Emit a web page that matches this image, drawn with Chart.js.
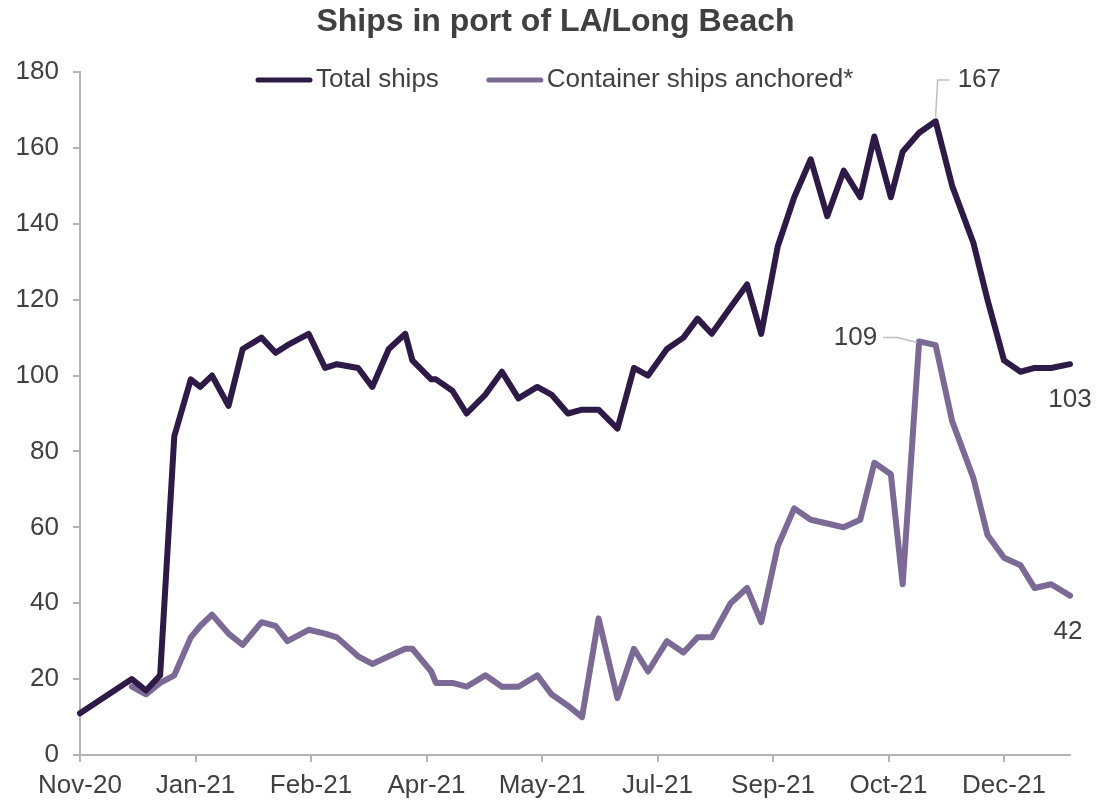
<!DOCTYPE html>
<html>
<head>
<meta charset="utf-8">
<script src="https://cdn.jsdelivr.net/npm/chart.js@4.4.0/dist/chart.umd.min.js"></script>
<style>
  html, body { margin: 0; padding: 0; background: #fff; }
</style>
</head>
<body>
<canvas id="shipsChart" width="1111" height="801"></canvas>
<script>
const dates = [
  '2020-11-15', '2020-12-07', '2020-12-13', '2020-12-19', '2020-12-25',
  '2021-01-01', '2021-01-05', '2021-01-10', '2021-01-17', '2021-01-23',
  '2021-01-31', '2021-02-06', '2021-02-11', '2021-02-20', '2021-02-27',
  '2021-03-04', '2021-03-13', '2021-03-19', '2021-03-26', '2021-04-02',
  '2021-04-05', '2021-04-13', '2021-04-15', '2021-04-22', '2021-04-28',
  '2021-05-06', '2021-05-13', '2021-05-20', '2021-05-28', '2021-06-03',
  '2021-06-10', '2021-06-16', '2021-06-23', '2021-07-01', '2021-07-08',
  '2021-07-14', '2021-07-22', '2021-07-29', '2021-08-04', '2021-08-10',
  '2021-08-18', '2021-08-25', '2021-08-31', '2021-09-07', '2021-09-14',
  '2021-09-21', '2021-09-28', '2021-10-05', '2021-10-12', '2021-10-18',
  '2021-10-25', '2021-10-30', '2021-11-06', '2021-11-13', '2021-11-20',
  '2021-11-29', '2021-12-05', '2021-12-12', '2021-12-19', '2021-12-25',
  '2022-01-01', '2022-01-09'
];

const totalShips = [
  11, 20, 17, 21, 84,
  99, 97, 100, 92, 107,
  110, 106, 108, 111, 102,
  103, 102, 97, 107, 111,
  104, 99, 99, 96, 90,
  95, 101, 94, 97, 95,
  90, 91, 91, 86, 102,
  100, 107, 110, 115, 111,
  118, 124, 111, 134, 147,
  157, 142, 154, 147, 163,
  147, 159, 164, 167, 150,
  135, 120, 104, 101, 102,
  102, 103
];

const containerShips = [
  null, 18, 16, 19, 21,
  31, 34, 37, 32, 29,
  35, 34, 30, 33, 32,
  31, 26, 24, 26, 28,
  28, 22, 19, 19, 18,
  21, 18, 18, 21, 16,
  13, 10, 36, 15, 28,
  22, 30, 27, 31, 31,
  40, 44, 35, 55, 65,
  62, 61, 60, 62, 77,
  74, 45, 109, 108, 88,
  73, 58, 52, 50, 44,
  45, 42
];

const tickLabels = ['Nov-20', 'Jan-21', 'Feb-21', 'Apr-21', 'May-21', 'Jul-21', 'Sep-21', 'Oct-21', 'Dec-21'];
const chartTitle = 'Ships in port of LA/Long Beach';
const axisStart = '2020-11-15';
const tickStepDays = 49;

const DAY = 86400000;
const dayOf = d => (Date.parse(d) - Date.parse(axisStart)) / DAY;
const toPoints = vals => dates.map((d, i) => ({ x: dayOf(d), y: vals[i] }));

const FONT = "'Liberation Sans', Arial, sans-serif";
const TEXT = '#404040';
const AXIS = '#B3B3B3';
const DARK = '#2E1A47';
const LIGHT = '#7B6A96';

// title centred on the whole canvas, legend inside the plot
const titleAndLegend = {
  id: 'titleAndLegend',
  afterDraw(chart) {
    const ctx = chart.ctx;
    ctx.save();
    ctx.font = 'bold 32px ' + FONT;
    ctx.fillStyle = TEXT;
    ctx.textAlign = 'center';
    ctx.textBaseline = 'middle';
    ctx.fillText(chartTitle, chart.width / 2, 22);

    const y = chart.chartArea.top + 8;
    let x = 258;
    ctx.font = '26px ' + FONT;
    ctx.textAlign = 'left';
    ctx.lineCap = 'round';
    chart.data.datasets.forEach(ds => {
      ctx.strokeStyle = ds.borderColor;
      ctx.lineWidth = 5;
      ctx.beginPath();
      ctx.moveTo(x, y);
      ctx.lineTo(x + 52, y);
      ctx.stroke();
      ctx.fillStyle = TEXT;
      ctx.fillText(ds.label, x + 58, y);
      x += 58 + ctx.measureText(ds.label).width + 50;
    });
    ctx.restore();
  }
};

// value labels with leader lines
const valueLabels = {
  id: 'valueLabels',
  afterDatasetsDraw(chart) {
    const ctx = chart.ctx;
    const top = chart.chartArea.top;
    ctx.save();
    ctx.font = '26px ' + FONT;
    ctx.fillStyle = TEXT;
    ctx.strokeStyle = '#BFBFBF';
    ctx.lineWidth = 1.5;
    ctx.textBaseline = 'middle';

    const metaT = chart.getDatasetMeta(0).data;
    const metaC = chart.getDatasetMeta(1).data;

    // peak of total ships
    const iT = totalShips.indexOf(Math.max(...totalShips));
    const pT = metaT[iT];
    ctx.beginPath();
    ctx.moveTo(pT.x, pT.y - 4);
    ctx.lineTo(pT.x + 2, top + 8);
    ctx.lineTo(pT.x + 14, top + 8);
    ctx.stroke();
    ctx.textAlign = 'left';
    ctx.fillText(String(totalShips[iT]), pT.x + 22, top + 8);

    // peak of container ships
    const vals = containerShips.filter(v => v !== null);
    const iC = containerShips.indexOf(Math.max(...vals));
    const pC = metaC[iC];
    ctx.beginPath();
    ctx.moveTo(pC.x - 2, pC.y + 1);
    ctx.lineTo(pC.x - 22, pC.y - 4);
    ctx.lineTo(pC.x - 36, pC.y - 4);
    ctx.stroke();
    ctx.textAlign = 'right';
    ctx.fillText(String(containerShips[iC]), pC.x - 42, pC.y - 4);

    // last values
    ctx.textAlign = 'center';
    const lT = metaT[metaT.length - 1];
    ctx.fillText(String(totalShips[totalShips.length - 1]), lT.x, lT.y + 36);
    const lC = metaC[metaC.length - 1];
    ctx.fillText(String(containerShips[containerShips.length - 1]), lC.x - 2, lC.y + 36);
    ctx.restore();
  }
};

const ctx = document.getElementById('shipsChart').getContext('2d');
const shipsChart = new Chart(ctx, {
  type: 'line',
  data: {
    datasets: [{
      label: 'Total ships',
      data: toPoints(totalShips),
      borderColor: DARK,
      borderWidth: 6,
      pointRadius: 0,
      tension: 0,
      clip: false,
      borderJoinStyle: 'round',
      borderCapStyle: 'round'
    }, {
      label: 'Container ships anchored*',
      data: toPoints(containerShips),
      borderColor: LIGHT,
      borderWidth: 6,
      pointRadius: 0,
      tension: 0,
      clip: false,
      borderJoinStyle: 'round',
      borderCapStyle: 'round'
    }]
  },
  options: {
    responsive: false,
    animation: false,
    layout: { padding: { top: 72, right: 41, bottom: 0, left: 0 } },
    plugins: {
      legend: { display: false },
      tooltip: { enabled: false },
      title: { display: false }
    },
    scales: {
      x: {
        type: 'linear',
        min: 0,
        max: dayOf(dates[dates.length - 1]),
        afterFit: s => { s.height = 46; },
        border: { color: AXIS, width: 2 },
        grid: { drawOnChartArea: false, drawTicks: true, tickLength: 7, color: AXIS, lineWidth: 2 },
        ticks: {
          stepSize: tickStepDays,
          includeBounds: false,
          autoSkip: false,
          maxRotation: 0,
          padding: 8,
          color: TEXT,
          font: { family: FONT, size: 26 },
          callback: (v, i) => tickLabels[i] || ''
        }
      },
      y: {
        min: 0,
        max: 180,
        afterFit: s => { s.width = 80; },
        border: { color: AXIS, width: 2 },
        grid: { drawOnChartArea: false, drawTicks: true, tickLength: 7, color: AXIS, lineWidth: 2 },
        ticks: {
          stepSize: 20,
          padding: 14,
          color: TEXT,
          font: { family: FONT, size: 26 }
        }
      }
    }
  },
  plugins: [titleAndLegend, valueLabels]
});
</script>
</body>
</html>
